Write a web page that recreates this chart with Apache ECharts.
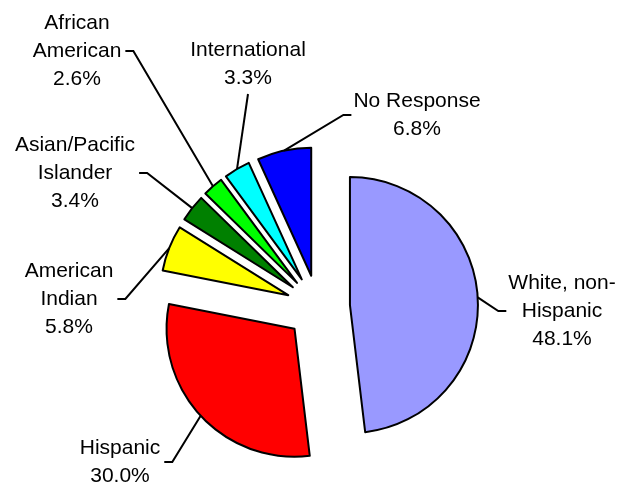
<!DOCTYPE html>
<html>
<head>
<meta charset="utf-8">
<script src="https://cdn.jsdelivr.net/npm/echarts@6/dist/echarts.min.js"></script>
<style>
html,body{margin:0;padding:0;background:#fff;}
#chart{width:620px;height:485px;}
</style>
</head>
<body>
<div id="chart"></div>
<script>
var categories = ['White, non-\nHispanic', 'Hispanic', 'American\nIndian', 'Asian/Pacific\nIslander', 'African\nAmerican', 'International', 'No Response'];
var values = [48.1, 30.0, 5.8, 3.4, 2.6, 3.3, 6.8];
var colors = ['#9999FF', '#FF0000', '#FFFF00', '#008000', '#00FF00', '#00FFFF', '#0000FF'];
// label text-block centres and the side their leader line attaches to (layout only)
var labelPos = [[562, 311], [120, 462], [69, 299], [75, 173], [77, 51], [248, 64], [417, 115]];
var labelSide = ['left', 'right', 'right', 'right', 'right', 'bottom', 'left'];

var FONT_FAMILY = '"Liberation Sans", Arial, sans-serif';
var FONT_SIZE = 21, LINE_H = 28, OFFSET = 32, STUB = 8;

var chart = echarts.init(document.getElementById('chart'), null, {renderer: 'canvas'});
var data = categories.map(function (c, i) {
  return {name: c, value: values[i], selected: true, itemStyle: {color: colors[i]}};
});
chart.setOption({
  animation: false,
  backgroundColor: '#fff',
  series: [{
    type: 'pie',
    center: [318, 307],
    radius: 128,
    startAngle: 90,
    clockwise: true,
    selectedMode: 'multiple',
    selectedOffset: OFFSET,
    itemStyle: {borderColor: '#000', borderWidth: 2},
    emphasis: {disabled: true},
    label: {show: false},
    labelLine: {show: false},
    data: data
  }]
});

// labels + leader lines, anchored to the arc midpoints that the pie layout produced
var ctx = document.createElement('canvas').getContext('2d');
ctx.font = FONT_SIZE + 'px ' + FONT_FAMILY;
function blockWidth(t) {
  return Math.max.apply(null, t.split('\n').map(function (l) { return ctx.measureText(l).width; }));
}
var seriesData = chart.getModel().getSeriesByIndex(0).getData();
var graphics = [];
categories.forEach(function (name, i) {
  var text = name + '\n' + values[i].toFixed(1) + '%';
  var lay = seriesData.getItemLayout(i);
  var mid = (lay.startAngle + lay.endAngle) / 2;
  var ax = lay.cx + OFFSET * Math.cos(mid) + lay.r * Math.cos(mid);
  var ay = lay.cy + OFFSET * Math.sin(mid) + lay.r * Math.sin(mid);
  var p = labelPos[i];
  var w = blockWidth(text);
  var h = text.split('\n').length * LINE_H;
  var pts;
  if (labelSide[i] === 'left') {
    var ex = p[0] - w / 2 - 2;
    pts = [[ax, ay], [ex - STUB, p[1]], [ex, p[1]]];
  } else if (labelSide[i] === 'right') {
    var ex2 = p[0] + w / 2 + 4;
    pts = [[ax, ay], [ex2 + STUB, p[1]], [ex2, p[1]]];
  } else {
    pts = [[ax, ay], [p[0], p[1] + h / 2 + 2]];
  }
  graphics.push({
    type: 'polyline', silent: true, z: 10,
    shape: {points: pts},
    style: {stroke: '#000', lineWidth: 2, fill: null}
  });
  graphics.push({
    type: 'text', silent: true, z: 10,
    x: p[0], y: p[1],
    style: {
      text: text, fill: '#000',
      fontSize: FONT_SIZE, fontFamily: FONT_FAMILY, lineHeight: LINE_H,
      align: 'center', verticalAlign: 'middle'
    }
  });
});
chart.setOption({graphic: graphics});
</script>
</body>
</html>
